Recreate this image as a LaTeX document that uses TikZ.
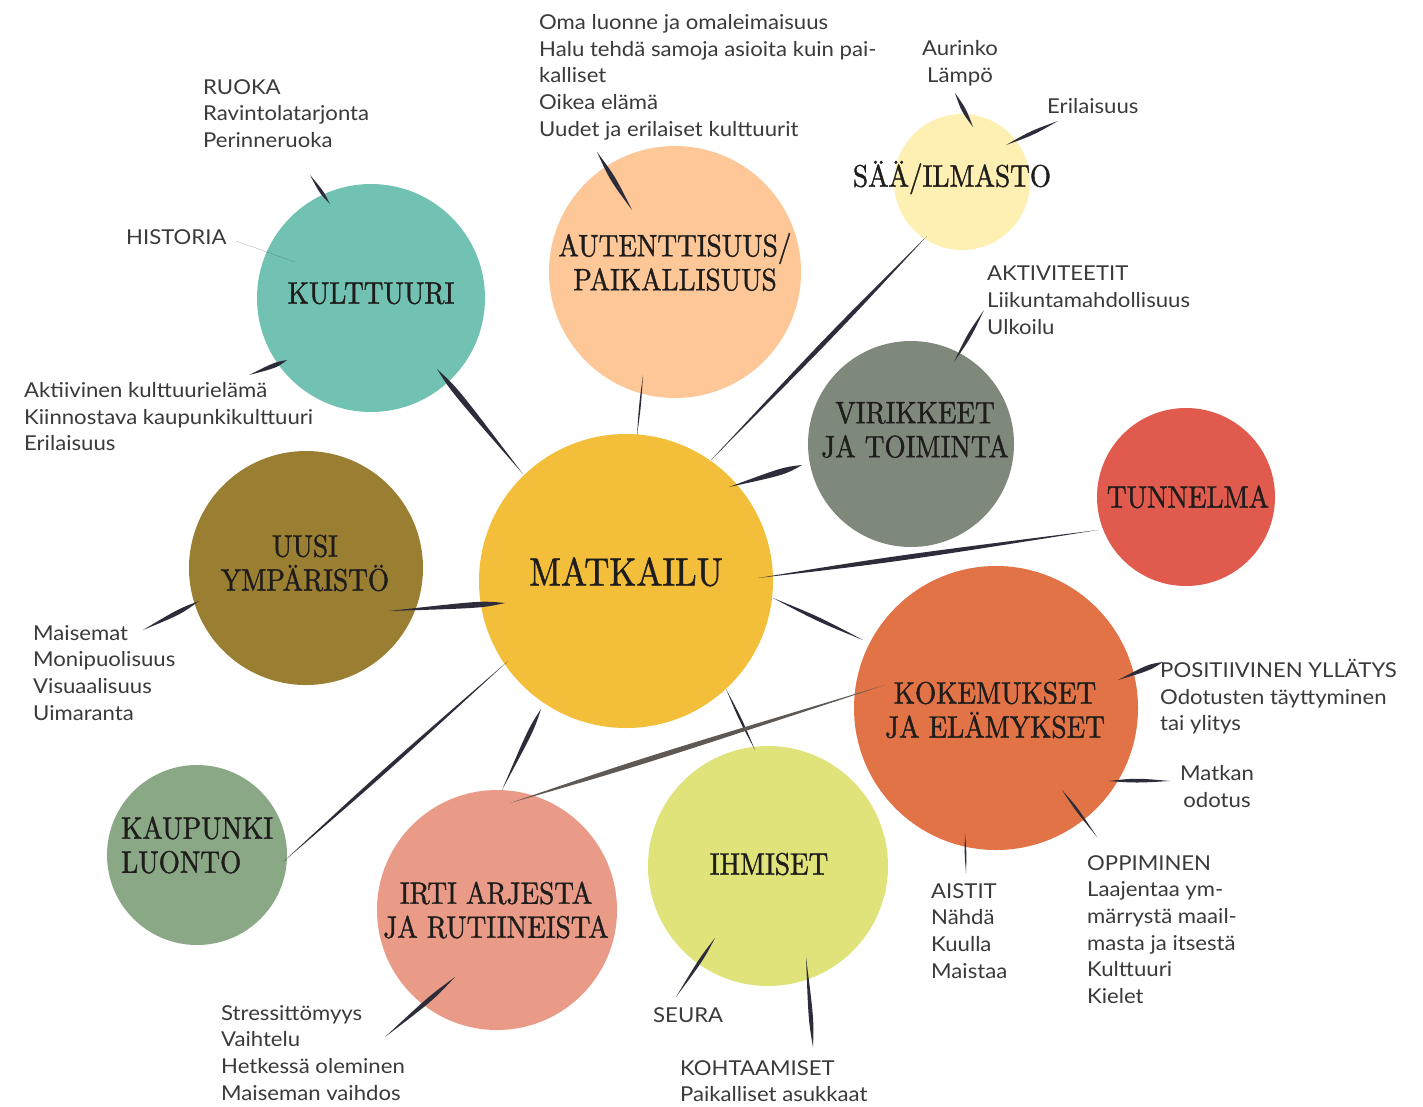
\documentclass[tikz,border=0pt]{standalone}
\usepackage{fontspec}
\usetikzlibrary{calc}
\newfontfamily\labelfont{Lato}[FakeStretch=1.08]
\newfontfamily\titlefont{lmroman10-regular}[Extension=.otf,FakeStretch=0.88,FakeBold=1.2]

\definecolor{ink}{HTML}{2D2C3A}
\definecolor{greyink}{HTML}{5E5954}
\definecolor{titlec}{HTML}{1F1D1C}
\definecolor{notec}{HTML}{3A3A3A}
\definecolor{cMatk}{HTML}{F3BE3A}
\definecolor{cKult}{HTML}{72C2B3}
\definecolor{cAut}{HTML}{FEC797}
\definecolor{cSaa}{HTML}{FEF0B2}
\definecolor{cVir}{HTML}{7F897B}
\definecolor{cTun}{HTML}{E05A4E}
\definecolor{cKok}{HTML}{E27346}
\definecolor{cUusi}{HTML}{9A7E32}
\definecolor{cKaup}{HTML}{8AA886}
\definecolor{cIrti}{HTML}{EA9B88}
\definecolor{cIhm}{HTML}{DFE37A}

% tapered brush stroke: from, to, bulge on one side, bulge on the other side, position of widest part
\newcommand\brush[6][ink]{%
  \fill[#1] (#2)
    .. controls ($(#2)!#6!(#3)!#4pt!90:(#3)$) and ($(#2)!#6!(#3)!#4pt!90:(#3)$) .. (#3)
    .. controls ($(#2)!#6!(#3)!#5pt!-90:(#3)$) and ($(#2)!#6!(#3)!#5pt!-90:(#3)$) .. (#2) -- cycle;}

\tikzset{
  bubble/.style={circle, inner sep=0pt, minimum size=#1},
  title/.style={font=\titlefont\fontsize{31}{34}\selectfont, text=titlec, align=center, inner sep=0pt},
  oneline/.style={text height=21.2pt, text depth=0pt},
  note/.style={font=\labelfont\fontsize{20.5}{26.7}\selectfont, text=notec, align=left, anchor=north west, inner sep=0pt},
}

\begin{document}
\begin{tikzpicture}[x=1pt,y=-1pt]
\fill[white] (0,0) rectangle (1423,1106);
\useasboundingbox (0,0) rectangle (1423,1106);

% circles
\node[bubble=294pt, fill=cMatk] (matk) at (626,581) {};
\node[bubble=228pt, fill=cKult] (kult) at (371,298) {};
\node[bubble=252pt, fill=cAut]  (aut)  at (675,272) {};
\node[bubble=136pt, fill=cSaa]  (saa)  at (962,182) {};
\node[bubble=206pt, fill=cVir]  (vir)  at (911,444) {};
\node[bubble=178pt, fill=cTun]  (tun)  at (1186,497) {};
\node[bubble=284pt, fill=cKok]  (kok)  at (996,708) {};
\node[bubble=234pt, fill=cUusi] (uusi) at (306,568) {};
\node[bubble=180pt, fill=cKaup] (kaup) at (197,855) {};
\node[bubble=240pt, fill=cIrti] (irti) at (497,910) {};
\node[bubble=240pt, fill=cIhm]  (ihm)  at (768,866) {};

% stroke ends on the circles
\coordinate (kultA) at ($(kult)+(66,71)$);   \coordinate (matkK) at ($(matk)+(-103,-107)$);
\coordinate (autA)  at ($(aut)+(-32,103)$);  \coordinate (matkA) at ($(matk)+(11,-145)$);
\coordinate (saaA)  at ($(saa)+(-35,54)$);   \coordinate (matkS) at ($(matk)+(85,-121)$);
\coordinate (virA)  at ($(vir)+(-109,21)$);  \coordinate (matkV) at ($(matk)+(103,-94)$);
\coordinate (tunA)  at ($(tun)+(-88,33)$);   \coordinate (matkT) at ($(matk)+(132,-3)$);
\coordinate (kokA)  at ($(kok)+(-133,-68)$); \coordinate (matkO) at ($(matk)+(147,17)$);
\coordinate (uusiA) at ($(uusi)+(83,43)$);   \coordinate (matkU) at ($(matk)+(-121,22)$);
\coordinate (kaupA) at ($(kaup)+(86,7)$);    \coordinate (matkP) at ($(matk)+(-118,80)$);
\coordinate (irtiA) at ($(irti)+(5,-120)$);  \coordinate (matkI) at ($(matk)+(-85,128)$);
\coordinate (ihmA)  at ($(ihm)+(-13,-116)$); \coordinate (matkH) at ($(matk)+(100,108)$);
\coordinate (kokI)  at ($(kok)+(-111,-23)$); \coordinate (irtiK) at ($(irti)+(13,-107)$);

\coordinate (kultR) at ($(kult)+(-41,-94)$); \coordinate (ruokaE) at (310,175);
\coordinate (kultH) at ($(kult)+(-76,-36)$); \coordinate (histE) at (236,241);
\coordinate (kultK) at ($(kult)+(-84,62)$);  \coordinate (aktE) at (249,375);
\coordinate (autO)  at ($(aut)+(-43,-62)$);  \coordinate (omaE) at (597,152);
\coordinate (saaL)  at ($(saa)+(11,-55)$);   \coordinate (lampoE) at (955,93);
\coordinate (saaE)  at ($(saa)+(44,-37)$);   \coordinate (eriE) at (1058,121);
\coordinate (virK)  at ($(vir)+(43,-82)$);   \coordinate (aktiE) at (984,310);
\coordinate (kokP)  at ($(kok)+(122,-28)$);  \coordinate (posE) at (1163,662);
\coordinate (kokM)  at ($(kok)+(112,73)$);   \coordinate (matkanE) at (1170,781);
\coordinate (kokO)  at ($(kok)+(66,82)$);    \coordinate (oppE) at (1097,837);
\coordinate (kokS)  at ($(kok)+(-31,125)$);  \coordinate (aistE) at (966,873);
\coordinate (uusiM) at ($(uusi)+(-107,33)$); \coordinate (maisE) at (143,630);
\coordinate (irtiS) at ($(irti)+(-42,67)$);  \coordinate (stressE) at (385,1037);
\coordinate (ihmS)  at ($(ihm)+(-53,72)$);   \coordinate (seuraE) at (676,997);
\coordinate (ihmK)  at ($(ihm)+(38,91)$);    \coordinate (kohtE) at (813,1047);

% strokes between the circles
\brush{kultA}{matkK}{4}{3.5}{0.2}
\brush{autA}{matkA}{1.1}{1.1}{0.5}
\brush{saaA}{matkS}{3}{3}{0.45}
\brush{virA}{matkV}{4.5}{3.5}{0.25}
\brush{tunA}{matkT}{3.5}{3}{0.6}
\brush{kokA}{matkO}{2.5}{2.5}{0.5}
\brush{uusiA}{matkU}{4}{3.5}{0.8}
\brush{kaupA}{matkP}{2.5}{2.5}{0.45}
\brush{irtiA}{matkI}{3}{3}{0.75}
\brush{ihmA}{matkH}{1.6}{1.6}{0.5}
\brush[greyink]{kokI}{irtiK}{3.5}{3.5}{0.65}

% strokes to the notes
\brush{kultR}{ruokaE}{2.5}{2}{0.4}
\brush{kultH}{histE}{0.9}{0.9}{0.5}
\brush{kultK}{aktE}{3.5}{2.5}{0.3}
\brush{autO}{omaE}{3.5}{3}{0.55}
\brush{saaL}{lampoE}{3}{2.5}{0.5}
\brush{saaE}{eriE}{2.5}{2.5}{0.5}
\brush{virK}{aktiE}{2.5}{2.5}{0.5}
\brush{kokP}{posE}{3.5}{3}{0.7}
\brush{kokM}{matkanE}{3}{2}{0.45}
\brush{kokO}{oppE}{2}{1.5}{0.4}
\brush{kokS}{aistE}{1.1}{1.1}{0.5}
\brush{uusiM}{maisE}{3.5}{2.5}{0.35}
\brush{irtiS}{stressE}{3.5}{2.5}{0.35}
\brush{ihmS}{seuraE}{2.5}{2}{0.35}
\brush{ihmK}{kohtE}{3}{2.5}{0.7}

% circle titles
\node[title, oneline, font=\titlefont\fontsize{39.5}{42}\selectfont, text height=27pt] (matk-t) at ($(matk)+(0,-9)$) {MATKAILU};
\node[title, oneline] (kult-t) at ($(kult)+(0,-5)$) {KULTTUURI};
\node[title] (aut-t) at ($(aut)+(0,-10)$) {AUTENTTISUUS/\\PAIKALLISUUS};
\node[title, oneline] (saa-t) at ($(saa)+(-10,-6)$) {SÄÄ/ILMASTO};
\node[title] (vir-t) at ($(vir)+(4,-14)$) {VIRIKKEET\\JA TOIMINTA};
\node[title, oneline] (tun-t) at ($(tun)+(2,0)$) {TUNNELMA};
\node[title] (kok-t) at ($(kok)+(-1,2)$) {KOKEMUKSET\\JA ELÄMYKSET};
\node[title] (uusi-t) at ($(uusi)+(-1,-5)$) {UUSI\\YMPÄRISTÖ};
\node[title, align=left, anchor=west] (kaup-t) at ($(kaup)+(-76,-10)$) {KAUPUNKI\\LUONTO};
\node[title] (irti-t) at ($(irti)+(-1,0)$) {IRTI ARJESTA\\JA RUTIINEISTA};
\node[title, oneline] (ihm-t) at ($(ihm)+(1,-2)$) {IHMISET};

% notes
\node[note] (n-ruoka) at (203,79) {RUOKA\\Ravintolatarjonta\\Perinneruoka};
\node[note] (n-hist) at (126,229) {HISTORIA};
\node[note] (n-akt) at (24,382) {Aktiivinen kulttuurielämä\\Kiinnostava kaupunkikulttuuri\\Erilaisuus};
\node[note] (n-oma) at (539,14) {Oma luonne ja omaleimaisuus\\Halu tehdä samoja asioita kuin pai-\\kalliset\\Oikea elämä\\Uudet ja erilaiset kulttuurit};
\node[note, align=center, anchor=north] (n-sun) at (960,40) {Aurinko\\Lämpö};
\node[note] (n-eri) at (1047,98) {Erilaisuus};
\node[note] (n-aktiv) at (987,266) {AKTIVITEETIT\\Liikuntamahdollisuus\\Ulkoilu};
\node[note] (n-pos) at (1160,659) {POSITIIVINEN YLLÄTYS\\Odotusten täyttyminen\\tai ylitys};
\node[note, align=center, anchor=north] (n-matkan) at (1217,765) {Matkan\\odotus};
\node[note] (n-aist) at (931,883) {AISTIT\\Nähdä\\Kuulla\\Maistaa};
\node[note] (n-opp) at (1087,855) {OPPIMINEN\\Laajentaa ym-\\märrystä maail-\\masta ja itsestä\\Kulttuuri\\Kielet};
\node[note] (n-mais) at (33,625) {Maisemat\\Monipuolisuus\\Visuaalisuus\\Uimaranta};
\node[note] (n-stress) at (221,1005) {Stressittömyys\\Vaihtelu\\Hetkessä oleminen\\Maiseman vaihdos};
\node[note] (n-seura) at (653,1007) {SEURA};
\node[note] (n-koht) at (680,1060) {KOHTAAMISET\\Paikalliset asukkaat};
\end{tikzpicture}
\end{document}
